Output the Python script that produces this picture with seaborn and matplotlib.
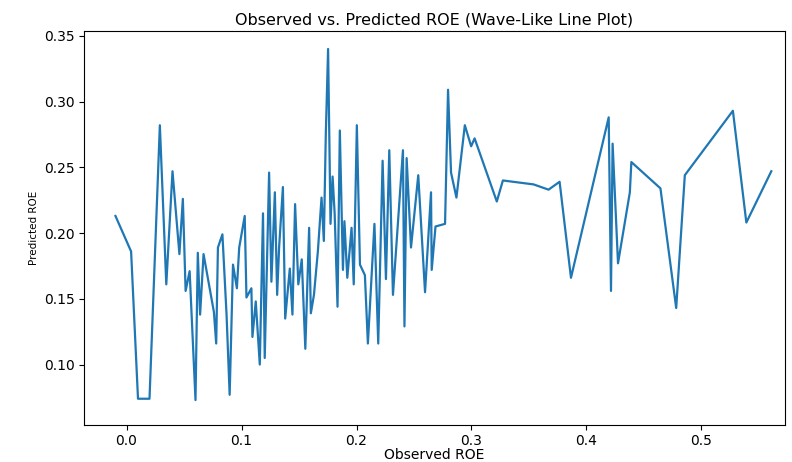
import pandas as pd
import seaborn as sns
import matplotlib
matplotlib.use("Agg")
import matplotlib.pyplot as plt


# values (sorted by observed ROE)
observed_roe = [
    -0.0096, 0.004, 0.010, 0.020, 0.029, 0.0346, 0.040, 0.046, 0.049, 0.0514,
    0.0549, 0.060, 0.062, 0.064, 0.067, 0.076, 0.078, 0.0795, 0.0834, 0.087,
    0.0897, 0.0926, 0.096, 0.098, 0.1028, 0.1043, 0.1086, 0.1095, 0.1124, 0.1159,
    0.1187, 0.1202, 0.124, 0.126, 0.129, 0.131, 0.1327, 0.136, 0.138, 0.142,
    0.1443, 0.1466, 0.1494, 0.1524, 0.1555, 0.1588, 0.1603, 0.163, 0.1664, 0.1696,
    0.1716, 0.1733, 0.1753, 0.1774, 0.1792, 0.181, 0.1835, 0.1855, 0.1882, 0.1895,
    0.192, 0.1957, 0.1976, 0.2003, 0.203, 0.2073, 0.2099, 0.2156, 0.2189, 0.2227,
    0.2256, 0.2285, 0.2317, 0.2404, 0.2417, 0.2436, 0.2474, 0.2537, 0.2596, 0.2648,
    0.2654, 0.2687, 0.277, 0.2796, 0.2822, 0.2869, 0.2942, 0.2997, 0.3027, 0.322,
    0.3273, 0.354, 0.367, 0.3766, 0.3865, 0.4193, 0.4213, 0.4227, 0.4274, 0.4377,
    0.439, 0.4643, 0.478, 0.4855, 0.5273, 0.539, 0.5607,
]
predicted_roe = [
    0.213, 0.186, 0.074, 0.074, 0.282, 0.161, 0.247, 0.184, 0.226, 0.156,
    0.171, 0.073, 0.185, 0.138, 0.184, 0.140, 0.116, 0.189, 0.199, 0.138,
    0.077, 0.176, 0.158, 0.189, 0.213, 0.151, 0.158, 0.121, 0.148, 0.100,
    0.215, 0.105, 0.246, 0.163, 0.231, 0.153, 0.189, 0.235, 0.135, 0.173,
    0.138, 0.222, 0.161, 0.180, 0.112, 0.204, 0.139, 0.153, 0.186, 0.227,
    0.194, 0.275, 0.340, 0.207, 0.243, 0.215, 0.144, 0.278, 0.172, 0.209,
    0.166, 0.204, 0.161, 0.282, 0.176, 0.168, 0.116, 0.207, 0.116, 0.255,
    0.165, 0.263, 0.153, 0.263, 0.129, 0.257, 0.189, 0.244, 0.155, 0.231,
    0.172, 0.205, 0.207, 0.309, 0.246, 0.227, 0.282, 0.266, 0.272, 0.224,
    0.240, 0.237, 0.233, 0.239, 0.166, 0.288, 0.156, 0.268, 0.177, 0.231,
    0.254, 0.234, 0.143, 0.244, 0.293, 0.208, 0.247,
]

df = pd.DataFrame({"Observed ROE": observed_roe, "Predicted ROE": predicted_roe})

fig = plt.figure(figsize=(7.92, 4.62), dpi=100)
# axes box placed to match the reference frame (left 84px, right 785px, top 31px, bottom 425px)
ax = fig.add_axes([0.106, 0.080, 0.885, 0.853])

# wave-like line through the sorted points
sns.lineplot(data=df, x="Observed ROE", y="Predicted ROE", ax=ax,
             color="#1f77b4", linewidth=1.6, errorbar=None)

ax.set_xlim(-0.037, 0.5725)
ax.set_ylim(0.0540, 0.3537)
ax.set_xticks([0.0, 0.1, 0.2, 0.3, 0.4, 0.5])
ax.set_yticks([0.10, 0.15, 0.20, 0.25, 0.30, 0.35])
ax.tick_params(labelsize=10, pad=3)

ax.set_title("Observed vs. Predicted ROE (Wave-Like Line Plot)", fontsize=11.5, pad=5)
ax.set_xlabel("Observed ROE", fontsize=10, labelpad=0)
ax.set_ylabel("Predicted ROE", fontsize=7.5, labelpad=4)

fig.savefig("out.png", dpi=100)
